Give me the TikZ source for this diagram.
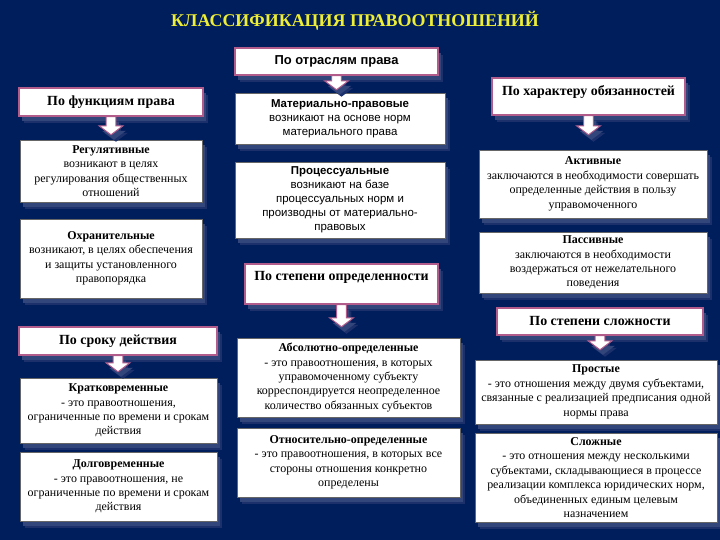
\documentclass[tikz,border=0pt]{standalone}
\usepackage{fontspec}
\setmainfont{Liberation Serif}
\newfontfamily\arialf{Liberation Sans}
\usetikzlibrary{calc,shadows}

\definecolor{bgc}{RGB}{0,29,92}
\definecolor{hdrc}{RGB}{178,92,140}
\definecolor{shc}{RGB}{50,70,124}
\definecolor{shc2}{RGB}{28,48,108}
\definecolor{ttlc}{RGB}{238,238,52}

\tikzset{
  shad/.style={drop shadow={shadow xshift=5pt,shadow yshift=-7pt,fill=shc2,opacity=1},
    drop shadow={shadow xshift=3pt,shadow yshift=-5pt,fill=shc,opacity=1}},
  hdr/.style={draw=hdrc,line width=1.2pt,fill=white,shad,inner sep=3pt,
    font=\bfseries\fontsize{14}{16}\selectfont},
  hdrs/.style={hdr,font=\arialf\bfseries\fontsize{13}{15}\selectfont},
  box/.style={draw=black!60,line width=.5pt,fill=white,shad,align=center,inner sep=1pt,
    font=\fontsize{12}{14.5}\selectfont},
  boxs/.style={box,font=\arialf\fontsize{11.5}{14}\selectfont},
  arr/.style={draw=hdrc,line width=1pt,fill=white,shad,line join=miter}
}

\newcommand\blockarrow[3][4pt]{%
  \draw[arr] let \p1=(#2.south), \p2=(#3.north) in
    (\x1-5pt,\y1) -- (\x1-5pt,\y2+#1+9pt) -- (\x1-12pt,\y2+#1+9pt) -- (\x1,\y2+#1)
    -- (\x1+12pt,\y2+#1+9pt) -- (\x1+5pt,\y2+#1+9pt) -- (\x1+5pt,\y1) -- cycle;}

\begin{document}
\begin{tikzpicture}[x=1bp,y=-1bp]
\fill[bgc] (0,0) rectangle (720,540);

\node[text=ttlc,font=\bfseries\fontsize{18}{20}\selectfont] (ttl) at (355,21) {КЛАССИФИКАЦИЯ ПРАВООТНОШЕНИЙ};

\node[hdrs,minimum width=203bp,minimum height=27bp] (otr) at (336.5,61.5) {По отраслям права};
\node[hdr,minimum width=184bp,minimum height=28bp] (fun) at (111,102) {По функциям права};
\node[hdr,minimum width=193bp,text height=14pt,text depth=17pt] (har) at (588.5,96.5) {По характеру обязанностей};
\node[hdr,minimum width=193bp,text height=13pt,text depth=21pt] (opr) at (341.5,284) {По степени определенности};
\node[hdr,minimum width=198bp,minimum height=28bp] (srok) at (118,341) {По сроку действия};
\node[hdr,minimum width=206bp,minimum height=27bp] (slo) at (600,321.5) {По степени сложности};

\node[box,minimum width=182bp,minimum height=62bp] (reg) at (111,171) {\textbf{Регулятивные}\\возникают в целях\\регулирования общественных\\отношений};
\node[box,minimum width=182bp,minimum height=79bp] (ohr) at (111,258.5) {\textbf{Охранительные}\\возникают, в целях обеспечения\\и защиты установленного\\правопорядка};

\node[boxs,minimum width=210bp,minimum height=51bp] (mat) at (340,118.5) {\textbf{Материально-правовые}\\возникают на основе норм\\материального права};
\node[boxs,minimum width=210bp,minimum height=76bp] (proc) at (340,200) {\textbf{Процессуальные}\\возникают на базе\\процессуальных норм и\\производны от материально-\\правовых};

\node[box,minimum width=223bp,minimum height=79bp] (abs) at (348.5,377.5) {\textbf{Абсолютно-определенные}\\- это правоотношения, в которых\\управомоченному субъекту\\корреспондируется неопределенное\\количество обязанных субъектов};
\node[box,minimum width=223bp,minimum height=69bp] (otn) at (348.5,462.5) {\textbf{Относительно-определенные}\\- это правоотношения, в которых все\\стороны отношения конкретно\\определены};

\node[box,minimum width=228bp,minimum height=68bp] (akt) at (593,184) {\textbf{Активные}\\заключаются в необходимости совершать\\определенные действия в пользу\\управомоченного};
\node[box,minimum width=228bp,minimum height=61bp] (pas) at (593,262.5) {\textbf{Пассивные}\\заключаются в необходимости\\воздержаться от нежелательного\\поведения};

\node[box,minimum width=197bp,minimum height=65bp] (kra) at (118.5,410.5) {\textbf{Кратковременные}\\- это правоотношения,\\ограниченные по времени и срокам\\действия};
\node[box,minimum width=197bp,minimum height=69bp] (dol) at (118.5,486.5) {\textbf{Долговременные}\\- это правоотношения, не\\ограниченные по времени и срокам\\действия};

\node[box,minimum width=242bp,minimum height=64bp] (pro) at (596,392) {\textbf{Простые}\\- это отношения между двумя субъектами,\\связанные с реализацией предписания одной\\нормы права};
\node[box,minimum width=242bp,minimum height=89bp] (slz) at (596,477.5) {\textbf{Сложные}\\- это отношения между несколькими\\субъектами, складывающиеся в процессе\\реализации комплекса юридических норм,\\объединенных единым целевым\\назначением};

\blockarrow[3pt]{otr}{mat}
\blockarrow[5pt]{fun}{reg}
\blockarrow[15pt]{har}{akt}
\blockarrow[11pt]{opr}{abs}
\blockarrow[6pt]{srok}{kra}
\blockarrow[10pt]{slo}{pro}
\end{tikzpicture}
\end{document}
